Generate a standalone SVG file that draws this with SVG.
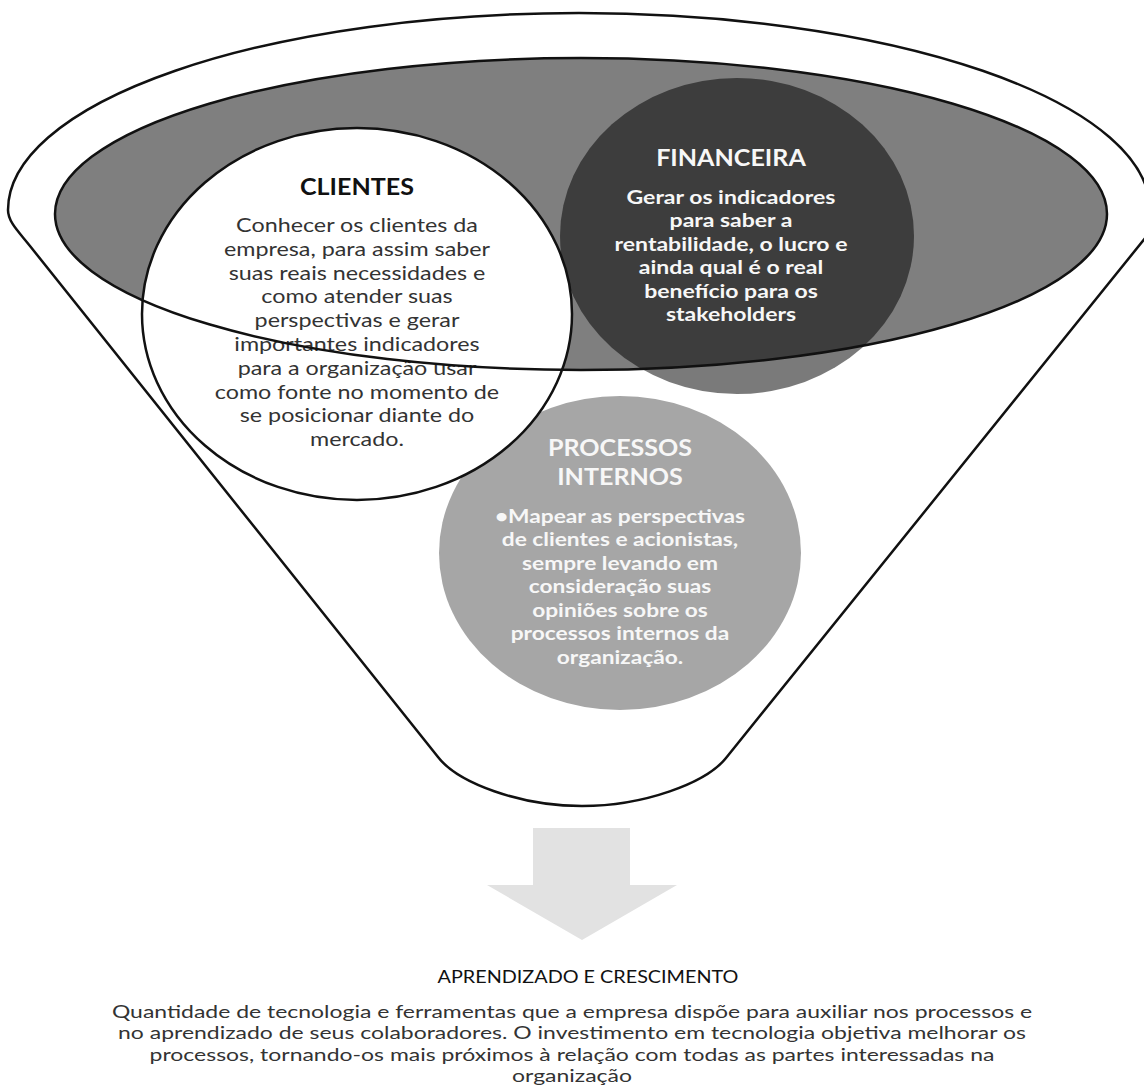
<svg xmlns="http://www.w3.org/2000/svg" width="1144" height="1090" viewBox="0 0 1144 1090">
  <style>
    .t { font-family: Lato, "Open Sans", "Liberation Sans", sans-serif; text-anchor: middle; }
    .head { font-size: 22.5px; font-weight: 700; }
    .body { font-size: 19.5px; }
    .dark { fill: #111111; }
    .ink { fill: #333333; }
    .light { fill: #f7f7f7; font-weight: 700; }
    .outline { fill: none; stroke: #111111; stroke-width: 2.5; }
  </style>

  <rect width="1144" height="1090" fill="#ffffff"/>

  <!-- funnel body -->
  <g id="funnel">
    <path d="M 8 210 A 571 197 0 0 1 1150 210 C 1150 222 1149 230 1146 237 L 726 758 C 706 783 644 806 582 806 C 520 806 458 783 438 757 L 30 246 C 19 232 8 222 8 210 Z" fill="#ffffff" stroke="#111111" stroke-width="2.5"/>
    <ellipse id="funnel-mouth" cx="581" cy="214" rx="526" ry="156" fill="#7f7f7f"/>
  </g>

  <!-- perspective: processos internos -->
  <g id="processos">
    <ellipse cx="620" cy="553" rx="181" ry="157" fill="#a6a6a6"/>
    <g transform="translate(620 0) scale(1.115 1)">
      <text class="t head" x="0" y="456" fill="#f7f7f7">PROCESSOS</text>
      <text class="t head" x="0" y="485" fill="#f7f7f7">INTERNOS</text>
    </g>
    <g transform="translate(620 0) scale(1.165 1)">
      <text class="t body light" x="0" y="523">•Mapear as perspectivas</text>
      <text class="t body light" x="0" y="546.5">de clientes e acionistas,</text>
      <text class="t body light" x="0" y="570">sempre levando em</text>
      <text class="t body light" x="0" y="593.5">consideração suas</text>
      <text class="t body light" x="0" y="617">opiniões sobre os</text>
      <text class="t body light" x="0" y="640.5">processos internos da</text>
      <text class="t body light" x="0" y="664">organização.</text>
    </g>
  </g>

  <!-- perspective: financeira (translucent disc) -->
  <g id="financeira">
    <ellipse cx="737" cy="236" rx="177" ry="158" fill="#000000" fill-opacity="0.52"/>
    <g transform="translate(731 0) scale(1.115 1)">
      <text class="t head" x="0" y="166" fill="#f7f7f7">FINANCEIRA</text>
    </g>
    <g transform="translate(731 0) scale(1.18 1)">
      <text class="t body light" x="0" y="204">Gerar os indicadores</text>
      <text class="t body light" x="0" y="227.5">para saber a</text>
      <text class="t body light" x="0" y="251">rentabilidade, o lucro e</text>
      <text class="t body light" x="0" y="274.5">ainda qual é o real</text>
      <text class="t body light" x="0" y="298">benefício para os</text>
      <text class="t body light" x="0" y="321.5">stakeholders</text>
    </g>
  </g>

  <!-- perspective: clientes -->
  <g id="clientes">
    <ellipse cx="357" cy="314" rx="215" ry="186" fill="#ffffff" stroke="#111111" stroke-width="2.5"/>
    <g transform="translate(357 0) scale(1.115 1)">
      <text class="t head dark" x="0" y="195">CLIENTES</text>
    </g>
    <g transform="translate(357 0) scale(1.195 1)">
      <text class="t body ink" x="0" y="232">Conhecer os clientes da</text>
      <text class="t body ink" x="0" y="255.8">empresa, para assim saber</text>
      <text class="t body ink" x="0" y="279.6">suas reais necessidades e</text>
      <text class="t body ink" x="0" y="303.4">como atender suas</text>
      <text class="t body ink" x="0" y="327.2">perspectivas e gerar</text>
      <text class="t body ink" x="0" y="351">importantes indicadores</text>
      <text class="t body ink" x="0" y="374.8">para a organização usar</text>
      <text class="t body ink" x="0" y="398.6">como fonte no momento de</text>
      <text class="t body ink" x="0" y="422.4">se posicionar diante do</text>
      <text class="t body ink" x="0" y="446.2">mercado.</text>
    </g>
  </g>

  <!-- rim of the funnel mouth, drawn over the discs -->
  <ellipse id="funnel-rim" class="outline" cx="581" cy="214" rx="526" ry="156"/>

  <!-- flow out of the funnel -->
  <g id="connectors">
    <polygon points="533,828 630,828 630,885 677,885 582,940 487,885 533,885" fill="#e2e2e2"/>
  </g>

  <!-- perspective: aprendizado e crescimento -->
  <g id="aprendizado">
    <g transform="translate(588 0) scale(1.1 1)">
      <text class="t dark" x="0" y="983" font-size="18">APRENDIZADO E CRESCIMENTO</text>
    </g>
    <g transform="translate(572 0) scale(1.29 1)">
      <text class="t ink" x="0" y="1018" font-size="17.8">Quantidade de tecnologia e ferramentas que a empresa dispõe para auxiliar nos processos e</text>
      <text class="t ink" x="0" y="1039.5" font-size="17.8">no aprendizado de seus colaboradores. O investimento em tecnologia objetiva melhorar os</text>
      <text class="t ink" x="0" y="1061" font-size="17.8">processos, tornando-os mais próximos à relação com todas as partes interessadas na</text>
      <text class="t ink" x="0" y="1082.5" font-size="17.8">organização</text>
    </g>
  </g>
</svg>
